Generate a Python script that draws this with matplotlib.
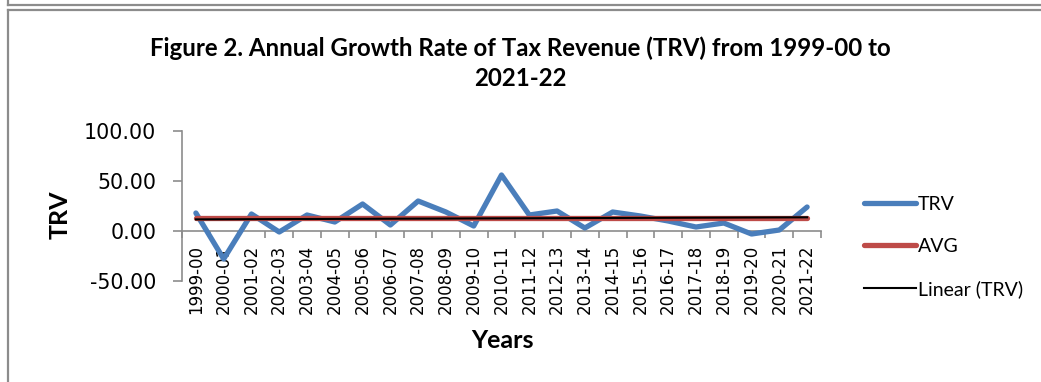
import numpy as np
import matplotlib.pyplot as plt
from matplotlib.lines import Line2D

# valeurs
annees = ["1999-00", "2000-01", "2001-02", "2002-03", "2003-04", "2004-05",
          "2005-06", "2006-07", "2007-08", "2008-09", "2009-10", "2010-11",
          "2011-12", "2012-13", "2013-14", "2014-15", "2015-16", "2016-17",
          "2017-18", "2018-19", "2019-20", "2020-21", "2021-22"]
trv = [18, -28, 17, -1, 16, 9, 27, 6, 30, 19, 5, 56,
       16, 20, 3, 19, 15, 10, 4, 8, -3, 1, 24]
avg_val = 12.65
yticks = [-50, 0, 50, 100]

W, H = 1041, 382
fig = plt.figure(figsize=(W / 100, H / 100), dpi=100)

# cadres gris
gris = "#8c8c8c"
fig.add_artist(Line2D([8 / W, 1], [1 - 5 / H, 1 - 5 / H], color=gris, lw=1.6, transform=fig.transFigure))
fig.add_artist(Line2D([8 / W, 8 / W], [1, 1 - 5 / H], color=gris, lw=1.6, transform=fig.transFigure))
fig.add_artist(Line2D([8 / W, 1], [1 - 10 / H, 1 - 10 / H], color=gris, lw=1.6, transform=fig.transFigure))
fig.add_artist(Line2D([8 / W, 8 / W], [1 - 10 / H, 0], color=gris, lw=1.6, transform=fig.transFigure))

ax = fig.add_axes([182 / W, 1 - 281 / H, (821 - 182) / W, 150 / H])

# position des axes avant les graduations (set_position remet les ticks à zéro)
for s in ["top", "right"]:
    ax.spines[s].set_visible(False)
ax.spines["bottom"].set_position(("data", 0))
ax.spines["bottom"].set_color(gris)
ax.spines["left"].set_color(gris)
ax.spines["bottom"].set_linewidth(1.2)
ax.spines["left"].set_linewidth(1.2)

x = np.arange(len(annees))
ax.plot(x, trv, color="#4a7ebb", lw=3.8, solid_joinstyle="round", solid_capstyle="round",
        label="TRV", zorder=3)
ax.plot(x, [avg_val] * len(x), color="#be4b48", lw=3.8, solid_capstyle="round", label="AVG", zorder=4)
a, b = np.polyfit(x, trv, 1)
ax.plot(x, a * x + b, color="black", lw=1.5, label="Linear (TRV)", zorder=5)

ax.set_xlim(-0.5, len(annees) - 0.5)
ax.set_ylim(-50, 100)
ax.set_yticks(yticks)
ax.set_yticklabels([f"{v:.2f}" for v in yticks], fontsize=14.8, family="DejaVu Sans")
ax.set_xticks(x)
ax.set_xticklabels(annees, rotation=90, fontsize=12, family="DejaVu Sans")
ax.set_xticks(np.arange(len(annees) + 1) - 0.5, minor=True)
ax.tick_params(axis="x", which="major", length=0, pad=10)
ax.tick_params(axis="x", which="minor", length=5, color=gris, width=1.2)
ax.tick_params(axis="y", length=6.5, color=gris, width=1.2, pad=12)

fig.text(520 / W, 1 - 48 / H, "Figure 2. Annual Growth Rate of Tax Revenue (TRV) from 1999-00 to",
         ha="center", va="center", fontsize=17.3, fontweight="bold", family="Lato")
fig.text(520 / W, 1 - 78 / H, "2021-22",
         ha="center", va="center", fontsize=17.3, fontweight="bold", family="Lato")
fig.text(502 / W, 1 - 340 / H, "Years", ha="center", va="center", fontsize=18, fontweight="bold", family="Lato")
fig.text(60 / W, 1 - 215 / H, "TRV", ha="center", va="center", rotation=90, fontsize=18, fontweight="bold", family="Lato")

leg = fig.legend(loc="upper left", bbox_to_anchor=(856 / W, 1 - 188 / H), frameon=False,
                 prop={"family": "Lato", "size": 14}, handlelength=2.7, handletextpad=0.1,
                 labelspacing=1.3, borderaxespad=0)

fig.savefig("out.png", dpi=100)
